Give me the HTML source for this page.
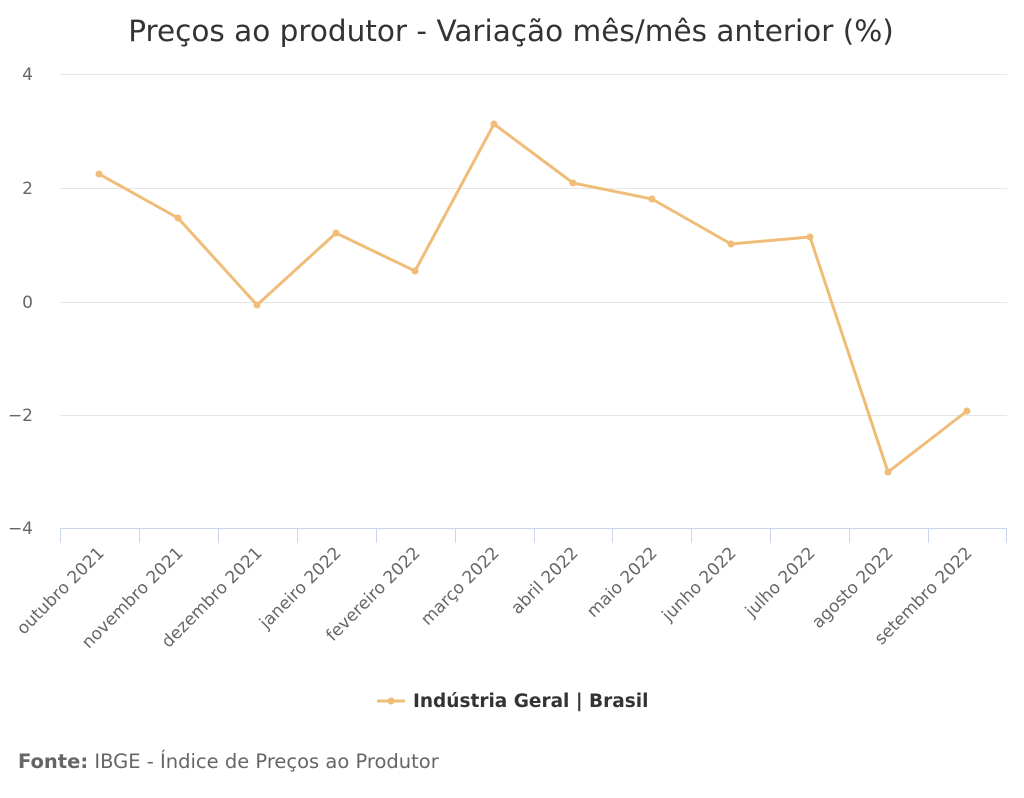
<!DOCTYPE html>
<html><head><meta charset="utf-8"><style>
body{margin:0;background:#fff;width:1024px;height:793px;overflow:hidden}
svg{font-family:"DejaVu Sans","Liberation Sans",sans-serif}
</style></head><body>
<svg width="1024" height="793" xmlns="http://www.w3.org/2000/svg">
<text x="511" y="41" text-anchor="middle" font-size="29.5" fill="#333">Preços ao produtor - Variação mês/mês anterior (%)</text>
<g stroke="#e6e6e6" stroke-width="1">
<line x1="60" x2="1007" y1="74.5" y2="74.5"/>
<line x1="60" x2="1007" y1="188.5" y2="188.5"/>
<line x1="60" x2="1007" y1="302.5" y2="302.5"/>
<line x1="60" x2="1007" y1="415.5" y2="415.5"/>
</g>
<line x1="60" x2="1007" y1="528.5" y2="528.5" stroke="#ccd6eb"/>
<g stroke="#ccd6eb">
<line x1="60.5" x2="60.5" y1="528" y2="543"/><line x1="139.5" x2="139.5" y1="528" y2="543"/><line x1="218.5" x2="218.5" y1="528" y2="543"/><line x1="297.5" x2="297.5" y1="528" y2="543"/><line x1="376.5" x2="376.5" y1="528" y2="543"/><line x1="455.5" x2="455.5" y1="528" y2="543"/><line x1="534.5" x2="534.5" y1="528" y2="543"/><line x1="612.5" x2="612.5" y1="528" y2="543"/><line x1="691.5" x2="691.5" y1="528" y2="543"/><line x1="770.5" x2="770.5" y1="528" y2="543"/><line x1="849.5" x2="849.5" y1="528" y2="543"/><line x1="928.5" x2="928.5" y1="528" y2="543"/><line x1="1006.5" x2="1006.5" y1="528" y2="543"/>
</g>
<g font-size="17" fill="#666" text-anchor="end">
<text x="33" y="80">4</text><text x="33" y="194">2</text><text x="33" y="308">0</text><text x="33" y="421">−2</text><text x="33" y="534">−4</text>
</g>
<g font-size="17" fill="#666" text-anchor="end">
<text transform="translate(105,554) rotate(-45)">outubro 2021</text>
<text transform="translate(184,554) rotate(-45)">novembro 2021</text>
<text transform="translate(263,554) rotate(-45)">dezembro 2021</text>
<text transform="translate(342,554) rotate(-45)">janeiro 2022</text>
<text transform="translate(421,554) rotate(-45)">fevereiro 2022</text>
<text transform="translate(500,554) rotate(-45)">março 2022</text>
<text transform="translate(579,554) rotate(-45)">abril 2022</text>
<text transform="translate(658,554) rotate(-45)">maio 2022</text>
<text transform="translate(737,554) rotate(-45)">junho 2022</text>
<text transform="translate(816,554) rotate(-45)">julho 2022</text>
<text transform="translate(894,554) rotate(-45)">agosto 2022</text>
<text transform="translate(973,554) rotate(-45)">setembro 2022</text>
</g>
<polyline fill="none" stroke="#f0bd78" stroke-width="3" stroke-linejoin="round" points="99,174 178,218 257,305 336,233 415,271 494,124 573,183 652,199 731,244 810,237 888,472 967,411"/>
<g fill="#f0bd78">
<circle cx="99" cy="174" r="3.5"/><circle cx="178" cy="218" r="3.5"/><circle cx="257" cy="305" r="3.5"/><circle cx="336" cy="233" r="3.5"/><circle cx="415" cy="271" r="3.5"/><circle cx="494" cy="124" r="3.5"/><circle cx="573" cy="183" r="3.5"/><circle cx="652" cy="199" r="3.5"/><circle cx="731" cy="244" r="3.5"/><circle cx="810" cy="237" r="3.5"/><circle cx="888" cy="472" r="3.5"/><circle cx="967" cy="411" r="3.5"/>
</g>
<line x1="377" x2="405" y1="701" y2="701" stroke="#f0bd78" stroke-width="3"/>
<circle cx="391" cy="701" r="3.5" fill="#f0bd78"/>
<text x="413" y="707" font-size="18.5" font-weight="bold" fill="#333">Indústria Geral | Brasil</text>
<text x="18" y="768" font-size="19.5" fill="#666"><tspan font-weight="bold">Fonte:</tspan> IBGE - Índice de Preços ao Produtor</text>
</svg>
</body></html>
